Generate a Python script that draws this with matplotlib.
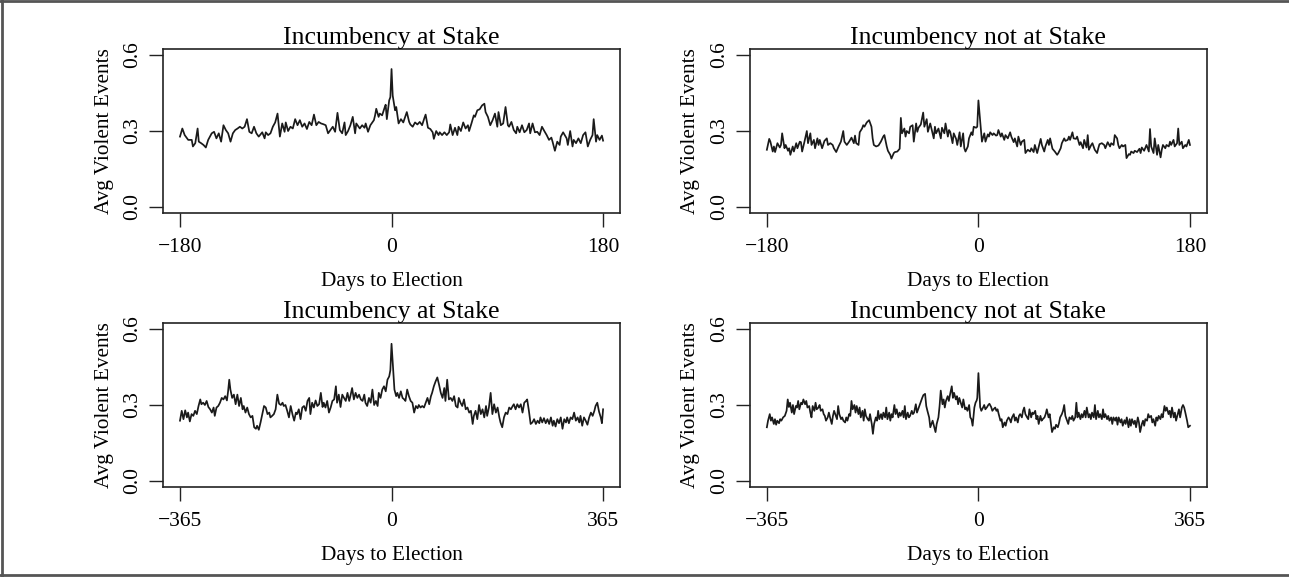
import matplotlib.pyplot as plt
from matplotlib.lines import Line2D

# ---- data: days to election vs avg violent events ----
days_180_at = [-180, -178, -176, -173, -170, -169, -167, -165, -164, -162, -160, -158, -156, -153,
               -151, -149, -147, -145, -143, -141, -139, -137, -135, -133, -131, -129, -127, -125,
               -123, -121, -119, -117, -115, -113, -110, -108, -107, -105, -103, -101, -99, -97,
               -95, -93, -91, -90, -88, -86, -84, -82, -80, -78, -76, -74, -72, -70, -68, -66, -64,
               -62, -60, -58, -56, -54, -52, -50, -48, -46, -44, -42, -40, -39, -37, -35, -33, -31,
               -30, -27, -25, -23, -22, -20, -18, -15, -14, -13, -11, -10, -8, -6, -5, -4, -2, -1,
               0, 1, 3, 4, 6, 8, 10, 12, 13, 15, 16, 18, 20, 22, 24, 26, 28, 29, 31, 33, 35, 36,
               38, 40, 41, 43, 45, 47, 49, 50, 52, 54, 56, 57, 59, 61, 63, 65, 66, 68, 70, 71, 73,
               75, 77, 79, 80, 82, 84, 86, 88, 90, 91, 93, 95, 97, 99, 100, 102, 104, 106, 107,
               109, 111, 113, 115, 117, 118, 120, 122, 124, 126, 128, 130, 132, 134, 136, 137, 139,
               141, 143, 144, 146, 149, 150, 152, 154, 155, 157, 159, 161, 163, 165, 167, 169, 171,
               172, 174, 175, 177, 179, 180]
vals_180_at = [0.278, 0.310, 0.284, 0.265, 0.265, 0.239, 0.252, 0.310, 0.258, 0.252, 0.245, 0.235,
               0.265, 0.291, 0.297, 0.271, 0.291, 0.258, 0.323, 0.304, 0.291, 0.258, 0.291, 0.304,
               0.310, 0.317, 0.310, 0.317, 0.347, 0.297, 0.291, 0.317, 0.291, 0.278, 0.295, 0.271,
               0.295, 0.284, 0.291, 0.317, 0.334, 0.369, 0.278, 0.330, 0.297, 0.334, 0.300, 0.317,
               0.310, 0.347, 0.323, 0.343, 0.317, 0.330, 0.308, 0.336, 0.323, 0.365, 0.323, 0.336,
               0.330, 0.327, 0.323, 0.291, 0.304, 0.317, 0.297, 0.372, 0.304, 0.291, 0.334, 0.284,
               0.300, 0.323, 0.356, 0.291, 0.330, 0.310, 0.323, 0.313, 0.330, 0.297, 0.323, 0.343,
               0.362, 0.388, 0.356, 0.369, 0.362, 0.391, 0.404, 0.347, 0.421, 0.434, 0.545, 0.440,
               0.382, 0.395, 0.330, 0.347, 0.334, 0.362, 0.375, 0.336, 0.326, 0.317, 0.334, 0.326,
               0.336, 0.323, 0.352, 0.365, 0.313, 0.308, 0.295, 0.269, 0.300, 0.284, 0.295, 0.284,
               0.295, 0.284, 0.295, 0.326, 0.284, 0.313, 0.284, 0.317, 0.300, 0.334, 0.310, 0.323,
               0.300, 0.330, 0.362, 0.356, 0.382, 0.386, 0.401, 0.408, 0.375, 0.356, 0.323, 0.343,
               0.369, 0.317, 0.375, 0.323, 0.330, 0.395, 0.323, 0.317, 0.336, 0.304, 0.291, 0.317,
               0.295, 0.323, 0.295, 0.304, 0.330, 0.291, 0.330, 0.295, 0.297, 0.284, 0.317, 0.300,
               0.284, 0.265, 0.274, 0.258, 0.222, 0.258, 0.245, 0.278, 0.295, 0.271, 0.245, 0.300,
               0.239, 0.265, 0.252, 0.271, 0.252, 0.284, 0.295, 0.239, 0.265, 0.284, 0.347, 0.258,
               0.284, 0.265, 0.282, 0.262]

days_180_not = [-180, -178, -177, -175, -174, -173, -171, -169, -168, -167, -165, -164, -162, -161,
                -160, -158, -157, -155, -154, -152, -151, -150, -148, -146, -145, -143, -142, -140,
                -139, -137, -136, -135, -133, -131, -129, -128, -126, -124, -123, -121, -119, -117,
                -115, -114, -112, -110, -108, -106, -105, -104, -102, -101, -99, -98, -97, -95, -93,
                -91, -90, -89, -87, -85, -83, -81, -80, -78, -77, -75, -74, -72, -71, -69, -67, -66,
                -65, -63, -62, -61, -59, -58, -56, -55, -53, -52, -51, -49, -47, -46, -44, -43, -41,
                -40, -38, -37, -36, -34, -32, -31, -29, -28, -26, -25, -24, -22, -21, -19, -18, -16,
                -15, -13, -12, -11, -9, -8, -6, -5, -4, -2, -1, 0, 2, 3, 5, 6, 8, 9, 10, 12, 13, 15,
                16, 17, 19, 20, 22, 23, 25, 27, 28, 30, 31, 33, 34, 36, 37, 39, 40, 42, 44, 45, 47,
                48, 50, 51, 53, 54, 56, 57, 59, 60, 61, 63, 65, 67, 68, 70, 71, 73, 74, 76, 77, 78,
                80, 81, 83, 84, 86, 87, 89, 90, 92, 93, 94, 96, 97, 99, 101, 102, 103, 105, 107, 108,
                110, 112, 113, 115, 116, 118, 119, 120, 122, 123, 125, 126, 128, 129, 130, 132, 133,
                135, 137, 138, 139, 141, 143, 145, 146, 147, 149, 150, 152, 153, 155, 156, 157, 159,
                160, 162, 163, 164, 166, 167, 169, 170, 171, 173, 174, 176, 177, 179, 180]
vals_180_not = [0.226, 0.269, 0.258, 0.219, 0.239, 0.217, 0.252, 0.235, 0.245, 0.291, 0.232, 0.245,
                0.222, 0.232, 0.206, 0.239, 0.219, 0.252, 0.232, 0.258, 0.256, 0.219, 0.258, 0.300,
                0.252, 0.291, 0.245, 0.265, 0.232, 0.271, 0.245, 0.265, 0.232, 0.261, 0.271, 0.245,
                0.252, 0.245, 0.232, 0.217, 0.239, 0.258, 0.300, 0.258, 0.245, 0.258, 0.274, 0.252,
                0.282, 0.252, 0.245, 0.295, 0.310, 0.323, 0.317, 0.334, 0.343, 0.317, 0.271, 0.245,
                0.239, 0.243, 0.258, 0.278, 0.284, 0.239, 0.222, 0.206, 0.191, 0.213, 0.217, 0.219,
                0.230, 0.352, 0.291, 0.310, 0.278, 0.300, 0.291, 0.317, 0.323, 0.258, 0.330, 0.297,
                0.313, 0.326, 0.373, 0.317, 0.347, 0.297, 0.330, 0.310, 0.271, 0.317, 0.291, 0.310,
                0.271, 0.313, 0.291, 0.330, 0.278, 0.304, 0.297, 0.252, 0.291, 0.269, 0.245, 0.295,
                0.239, 0.291, 0.232, 0.219, 0.239, 0.271, 0.295, 0.284, 0.317, 0.313, 0.317, 0.421,
                0.310, 0.258, 0.291, 0.258, 0.287, 0.278, 0.295, 0.284, 0.291, 0.282, 0.284, 0.304,
                0.278, 0.291, 0.265, 0.284, 0.271, 0.295, 0.278, 0.256, 0.271, 0.239, 0.278, 0.245,
                0.258, 0.265, 0.213, 0.226, 0.219, 0.232, 0.217, 0.245, 0.213, 0.232, 0.269, 0.245,
                0.219, 0.239, 0.265, 0.245, 0.271, 0.230, 0.219, 0.206, 0.213, 0.232, 0.252, 0.271,
                0.261, 0.265, 0.278, 0.265, 0.295, 0.271, 0.269, 0.278, 0.245, 0.256, 0.232, 0.265,
                0.235, 0.284, 0.226, 0.245, 0.252, 0.226, 0.213, 0.232, 0.248, 0.252, 0.245, 0.232,
                0.256, 0.239, 0.252, 0.245, 0.284, 0.271, 0.245, 0.232, 0.245, 0.239, 0.245, 0.193,
                0.209, 0.206, 0.219, 0.213, 0.222, 0.217, 0.230, 0.213, 0.235, 0.222, 0.245, 0.219,
                0.308, 0.239, 0.213, 0.271, 0.206, 0.245, 0.196, 0.226, 0.245, 0.232, 0.245, 0.239,
                0.258, 0.245, 0.265, 0.239, 0.252, 0.310, 0.245, 0.258, 0.232, 0.245, 0.239, 0.265,
                0.245]

days_365_at = [-365, -362, -359, -356, -353, -351, -348, -345, -342, -339, -336, -333, -330, -328,
               -325, -322, -319, -316, -313, -310, -307, -305, -302, -299, -296, -293, -290, -287,
               -284, -282, -280, -278, -275, -272, -269, -266, -263, -260, -257, -255, -252, -249,
               -246, -243, -240, -237, -234, -232, -229, -226, -223, -220, -217, -214, -211, -209,
               -206, -203, -200, -197, -194, -191, -188, -186, -183, -180, -177, -174, -171, -168,
               -165, -163, -160, -157, -154, -151, -148, -145, -142, -140, -137, -134, -131, -128,
               -125, -122, -119, -117, -114, -111, -108, -105, -102, -99, -96, -94, -91, -88, -85,
               -82, -79, -76, -73, -71, -68, -65, -62, -59, -56, -53, -50, -47, -45, -42, -39, -36,
               -33, -30, -27, -24, -22, -19, -16, -13, -10, -7, -4, -2, 0, 3, 5, 8, 10, 13, 16, 19,
               22, 24, 27, 30, 33, 36, 39, 42, 45, 47, 50, 53, 56, 59, 62, 65, 68, 70, 73, 76, 79,
               82, 85, 88, 91, 93, 96, 99, 102, 105, 108, 111, 114, 116, 119, 122, 125, 128, 131,
               134, 137, 140, 142, 145, 148, 151, 154, 157, 160, 163, 165, 168, 171, 174, 177, 180,
               183, 186, 188, 191, 194, 197, 200, 203, 206, 209, 211, 214, 217, 220, 223, 226, 229,
               232, 234, 237, 240, 243, 246, 249, 252, 255, 257, 260, 263, 266, 269, 272, 275, 278,
               280, 283, 286, 289, 292, 295, 298, 301, 303, 306, 309, 312, 315, 318, 321, 324, 326,
               329, 332, 335, 338, 341, 344, 347, 350, 352, 355, 358, 361, 363, 365]
vals_365_at = [0.238, 0.277, 0.244, 0.279, 0.251, 0.270, 0.235, 0.264, 0.257, 0.277, 0.264, 0.296,
               0.322, 0.303, 0.309, 0.300, 0.316, 0.292, 0.283, 0.270, 0.290, 0.257, 0.290, 0.296,
               0.309, 0.328, 0.322, 0.335, 0.318, 0.354, 0.400, 0.361, 0.328, 0.341, 0.303, 0.341,
               0.296, 0.328, 0.283, 0.296, 0.270, 0.290, 0.264, 0.251, 0.257, 0.212, 0.206, 0.218,
               0.202, 0.231, 0.264, 0.296, 0.290, 0.264, 0.270, 0.251, 0.257, 0.264, 0.283, 0.341,
               0.305, 0.300, 0.309, 0.296, 0.300, 0.277, 0.251, 0.296, 0.264, 0.238, 0.270, 0.264,
               0.283, 0.244, 0.290, 0.296, 0.277, 0.316, 0.328, 0.264, 0.309, 0.290, 0.318, 0.296,
               0.303, 0.348, 0.292, 0.309, 0.290, 0.316, 0.270, 0.290, 0.316, 0.322, 0.374, 0.309,
               0.341, 0.292, 0.341, 0.328, 0.316, 0.348, 0.316, 0.335, 0.367, 0.322, 0.348, 0.328,
               0.341, 0.322, 0.316, 0.341, 0.309, 0.296, 0.328, 0.309, 0.361, 0.300, 0.316, 0.296,
               0.348, 0.328, 0.361, 0.374, 0.354, 0.400, 0.413, 0.438, 0.542, 0.432, 0.361, 0.335,
               0.348, 0.328, 0.354, 0.328, 0.322, 0.316, 0.361, 0.335, 0.316, 0.309, 0.270, 0.296,
               0.287, 0.300, 0.290, 0.296, 0.290, 0.309, 0.328, 0.303, 0.335, 0.348, 0.374, 0.393,
               0.409, 0.380, 0.348, 0.328, 0.367, 0.316, 0.400, 0.322, 0.328, 0.316, 0.335, 0.296,
               0.290, 0.328, 0.309, 0.296, 0.322, 0.283, 0.290, 0.270, 0.277, 0.225, 0.257, 0.277,
               0.244, 0.300, 0.264, 0.283, 0.251, 0.296, 0.257, 0.290, 0.348, 0.264, 0.303, 0.270,
               0.290, 0.251, 0.231, 0.212, 0.251, 0.270, 0.264, 0.290, 0.283, 0.296, 0.303, 0.283,
               0.303, 0.290, 0.303, 0.270, 0.309, 0.316, 0.322, 0.277, 0.225, 0.231, 0.244, 0.225,
               0.238, 0.228, 0.251, 0.231, 0.248, 0.228, 0.244, 0.225, 0.251, 0.218, 0.238, 0.215,
               0.244, 0.228, 0.251, 0.206, 0.244, 0.231, 0.251, 0.228, 0.251, 0.244, 0.270, 0.238,
               0.251, 0.231, 0.257, 0.218, 0.251, 0.238, 0.222, 0.251, 0.270, 0.257, 0.277, 0.296,
               0.309, 0.274, 0.251, 0.228, 0.283]

days_365_not = [-365, -363, -360, -358, -356, -353, -351, -349, -347, -344, -342, -340, -337, -334,
                -331, -329, -327, -325, -322, -320, -318, -315, -313, -311, -309, -306, -304, -302,
                -299, -297, -295, -292, -290, -288, -286, -283, -281, -279, -276, -274, -272, -269,
                -267, -265, -263, -260, -258, -256, -253, -251, -249, -246, -244, -242, -240, -237,
                -235, -233, -230, -228, -226, -223, -221, -219, -217, -214, -212, -210, -207, -205,
                -203, -200, -198, -196, -194, -191, -189, -187, -184, -182, -180, -177, -175, -173,
                -171, -168, -166, -164, -161, -159, -157, -154, -152, -150, -148, -145, -143, -141,
                -138, -136, -134, -131, -129, -127, -125, -122, -120, -118, -115, -113, -111, -108,
                -106, -104, -102, -99, -97, -95, -92, -90, -88, -85, -83, -81, -79, -76, -74, -72,
                -69, -67, -65, -62, -60, -58, -56, -53, -51, -49, -46, -44, -42, -39, -37, -35, -33,
                -30, -28, -26, -23, -21, -19, -16, -14, -12, -10, -7, -5, -3, -2, 0, 3, 5, 8, 10, 12,
                15, 17, 19, 22, 24, 26, 29, 31, 33, 35, 38, 40, 42, 45, 47, 49, 52, 54, 56, 58, 61,
                63, 65, 68, 70, 72, 75, 77, 79, 81, 84, 86, 88, 91, 93, 95, 98, 100, 102, 104, 107,
                109, 111, 114, 116, 118, 121, 123, 125, 127, 130, 132, 134, 137, 139, 141, 144, 146,
                148, 150, 153, 155, 157, 160, 162, 164, 167, 169, 171, 173, 176, 178, 180, 183, 185,
                187, 190, 192, 194, 196, 199, 201, 203, 206, 208, 210, 213, 215, 217, 219, 222, 224,
                226, 229, 231, 233, 236, 238, 240, 242, 245, 247, 249, 252, 254, 256, 259, 261, 263,
                265, 268, 270, 272, 275, 277, 279, 282, 284, 286, 288, 291, 293, 295, 298, 300, 302,
                305, 307, 309, 311, 314, 316, 318, 321, 323, 325, 328, 330, 332, 334, 337, 339, 341,
                344, 346, 348, 351, 353, 355, 357, 360, 362, 365]
vals_365_not = [0.212, 0.238, 0.264, 0.238, 0.251, 0.225, 0.244, 0.222, 0.238, 0.228, 0.244, 0.238,
                0.251, 0.257, 0.277, 0.322, 0.292, 0.309, 0.270, 0.300, 0.264, 0.296, 0.290, 0.316,
                0.283, 0.309, 0.303, 0.322, 0.303, 0.316, 0.290, 0.296, 0.270, 0.251, 0.296, 0.277,
                0.309, 0.283, 0.290, 0.300, 0.277, 0.283, 0.264, 0.257, 0.238, 0.251, 0.270, 0.251,
                0.225, 0.257, 0.277, 0.257, 0.244, 0.296, 0.264, 0.244, 0.251, 0.238, 0.231, 0.251,
                0.238, 0.264, 0.257, 0.316, 0.283, 0.300, 0.270, 0.296, 0.264, 0.290, 0.251, 0.277,
                0.238, 0.283, 0.257, 0.244, 0.238, 0.264, 0.225, 0.186, 0.225, 0.251, 0.238, 0.277,
                0.244, 0.264, 0.244, 0.270, 0.251, 0.290, 0.244, 0.270, 0.238, 0.264, 0.251, 0.300,
                0.264, 0.283, 0.251, 0.270, 0.257, 0.277, 0.251, 0.296, 0.244, 0.270, 0.251, 0.257,
                0.277, 0.264, 0.270, 0.303, 0.270, 0.283, 0.296, 0.316, 0.328, 0.339, 0.344, 0.296,
                0.277, 0.251, 0.212, 0.225, 0.238, 0.212, 0.193, 0.225, 0.251, 0.296, 0.357, 0.303,
                0.322, 0.290, 0.316, 0.335, 0.316, 0.341, 0.374, 0.328, 0.348, 0.322, 0.335, 0.303,
                0.328, 0.305, 0.290, 0.322, 0.283, 0.290, 0.277, 0.300, 0.251, 0.244, 0.218, 0.290,
                0.309, 0.318, 0.328, 0.426, 0.292, 0.277, 0.290, 0.300, 0.283, 0.292, 0.300, 0.305,
                0.292, 0.277, 0.283, 0.290, 0.277, 0.283, 0.264, 0.238, 0.244, 0.212, 0.231, 0.218,
                0.238, 0.251, 0.244, 0.231, 0.251, 0.264, 0.238, 0.251, 0.231, 0.257, 0.264, 0.251,
                0.277, 0.290, 0.264, 0.251, 0.244, 0.283, 0.251, 0.270, 0.264, 0.277, 0.244, 0.257,
                0.225, 0.257, 0.238, 0.244, 0.251, 0.264, 0.283, 0.251, 0.264, 0.228, 0.193, 0.212,
                0.206, 0.222, 0.212, 0.228, 0.251, 0.264, 0.277, 0.300, 0.257, 0.238, 0.225, 0.251,
                0.244, 0.257, 0.238, 0.251, 0.309, 0.251, 0.270, 0.244, 0.264, 0.251, 0.277, 0.251,
                0.290, 0.251, 0.264, 0.244, 0.270, 0.251, 0.300, 0.244, 0.277, 0.251, 0.264, 0.244,
                0.283, 0.251, 0.264, 0.244, 0.257, 0.238, 0.251, 0.225, 0.251, 0.238, 0.251, 0.222,
                0.251, 0.231, 0.244, 0.218, 0.240, 0.225, 0.251, 0.212, 0.244, 0.218, 0.244, 0.225,
                0.238, 0.212, 0.251, 0.231, 0.193, 0.225, 0.238, 0.218, 0.244, 0.238, 0.264, 0.251,
                0.257, 0.231, 0.244, 0.218, 0.251, 0.238, 0.257, 0.244, 0.264, 0.251, 0.296, 0.277,
                0.290, 0.264, 0.277, 0.251, 0.290, 0.251, 0.270, 0.238, 0.264, 0.283, 0.251, 0.290,
                0.300, 0.290, 0.270, 0.238, 0.212, 0.218]

titles = ["Incumbency at Stake", "Incumbency not at Stake"]
y_ticks = [0.0, 0.3, 0.6]
y_ticklabels = ["0.0", "0.3", "0.6"]

plt.rcParams["font.family"] = ["Liberation Serif", "DejaVu Serif"]

fig = plt.figure(figsize=(12.89, 5.77), dpi=100)

lefts = [0.1265, 0.5818]
bottoms = [0.6308, 0.1560]
w, h = 0.3545, 0.2842

panels = [
    (days_180_at, vals_180_at, titles[0], 180, 0, 0),
    (days_180_not, vals_180_not, titles[1], 180, 0, 1),
    (days_365_at, vals_365_at, titles[0], 365, 1, 0),
    (days_365_not, vals_365_not, titles[1], 365, 1, 1),
]

for days, vals, title, span, row, col in panels:
    ax = fig.add_axes([lefts[col], bottoms[row], w, h])
    ax.plot(days, vals, color="#1a1a1a", linewidth=1.25)
    pad_x = 0.04 * 2 * span
    ax.set_xlim(-span - pad_x, span + pad_x)
    ax.set_ylim(-0.024, 0.624)
    ax.set_xticks([-span, 0, span])
    ax.set_xticklabels([f"\u2212{span}", "0", f"{span}"])
    ax.set_yticks(y_ticks)
    ax.set_yticklabels(y_ticklabels, rotation=90, va="center")
    ax.tick_params(direction="out", length=10, width=1.0, labelsize=15.5, color="#222222")
    ax.tick_params(axis="x", pad=8)
    ax.tick_params(axis="y", pad=5)
    for s in ax.spines.values():
        s.set_linewidth(1.2)
        s.set_color("#222222")
    ax.set_title(title, fontsize=18.5, pad=0.5)
    ax.set_xlabel("Days to Election", fontsize=15.3, labelpad=11)
    ax.set_ylabel("Avg Violent Events", fontsize=15.3, labelpad=7)

# outer frame lines (top, left, bottom)
frame_kw = dict(color="#555555", linewidth=2.0, transform=fig.transFigure)
fig.add_artist(Line2D([0.0, 1.0], [0.998, 0.998], **frame_kw))
fig.add_artist(Line2D([0.0018, 0.0018], [0.0, 1.0], **frame_kw))
fig.add_artist(Line2D([0.0, 1.0], [0.003, 0.003], **frame_kw))

fig.savefig("out.png", dpi=100)
